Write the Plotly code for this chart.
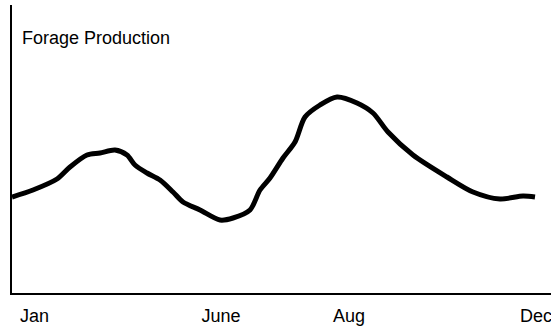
import plotly.graph_objects as go

# Time position along the season (axis units) and relative forage production
time_pos = [0, 21, 45, 58, 75, 88, 103, 115, 123, 135, 148, 161, 171, 188, 208, 221,
            238, 248, 258, 271, 283, 293, 308, 325, 345, 361, 376, 401, 435, 461, 488, 511, 523]
production = [96, 103, 114, 126, 138, 140, 143, 138, 128, 120, 113, 101, 91, 83, 73, 75,
              83, 103, 115, 135, 151, 176, 188, 196, 190, 180, 161, 138, 116, 101, 94, 97, 96]

tick_pos = [22.5, 209, 337, 524]
tick_labels = ["Jan", "June", "Aug", "Dec"]

FONT = "Liberation Sans, Arial, sans-serif"

fig = go.Figure()
fig.add_trace(go.Scatter(
    x=time_pos, y=production, mode="lines",
    line=dict(color="black", width=5, shape="spline", smoothing=0.8),
    hoverinfo="skip", showlegend=False,
))

fig.update_layout(
    width=551, height=327,
    margin=dict(l=12, r=0, t=5, b=34),
    paper_bgcolor="white", plot_bgcolor="white",
    font=dict(family=FONT, size=18, color="black"),
    xaxis=dict(range=[0, 539], showgrid=False, zeroline=False, showline=True,
               linecolor="black", linewidth=2, ticks="", tickvals=tick_pos,
               ticktext=tick_labels, ticklabelstandoff=5, automargin=False,
               ticklabeloverflow="allow",
               tickfont=dict(family=FONT, size=18, color="black")),
    yaxis=dict(range=[0, 288], showgrid=False, zeroline=False, showline=True,
               linecolor="black", linewidth=2, ticks="", showticklabels=False,
               automargin=False),
    annotations=[dict(text="Forage Production", xref="paper", yref="paper",
                      x=8 / 539, y=(293 - 37.5) / 288, xanchor="left", yanchor="middle",
                      showarrow=False, font=dict(family=FONT, size=18, color="black"))],
)

fig.write_html("out.html", config={"displayModeBar": False},
               post_script="document.body.style.margin='0';document.body.style.overflow='hidden';")
